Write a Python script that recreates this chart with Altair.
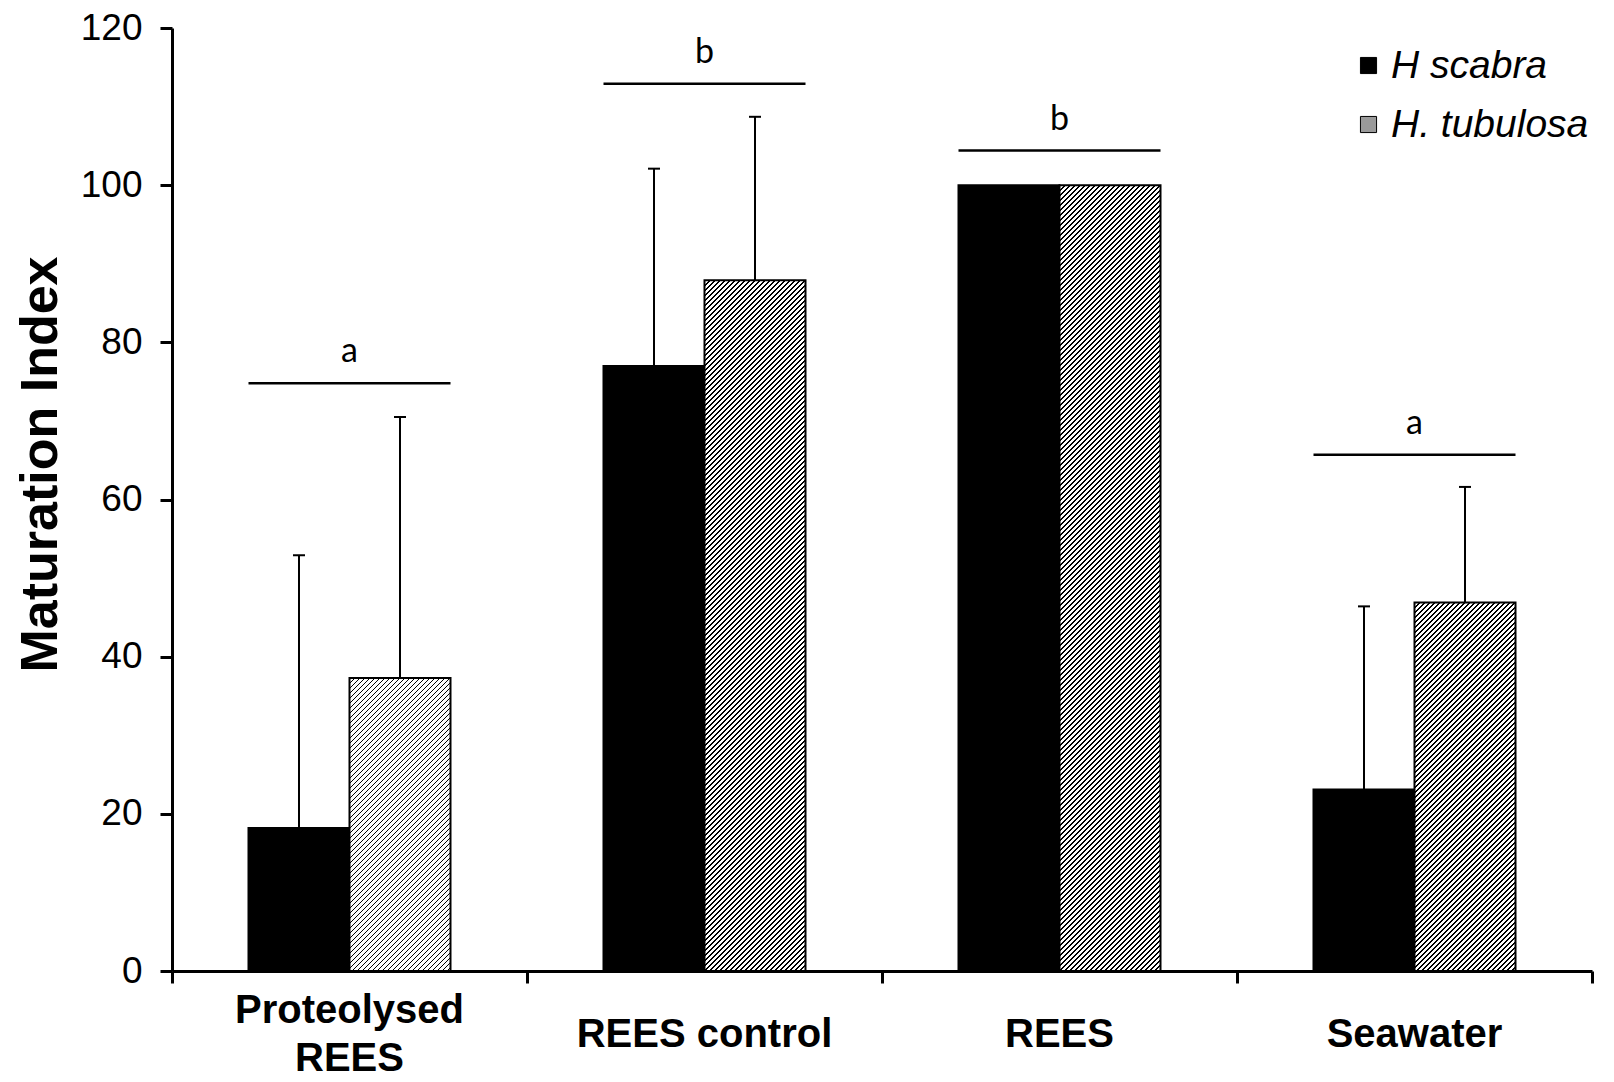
import math
import altair as alt
import pandas as pd

# ---- data ----
categories = ["Proteolysed REES", "REES control", "REES", "Seawater"]
series = ["H scabra", "H. tubulosa"]
scabra_mean = [18.2, 77.0, 100.0, 23.1]
scabra_upper = [52.9, 102.1, 100.0, 46.4]
tubulosa_mean = [37.3, 87.9, 100.0, 46.9]
tubulosa_upper = [70.5, 108.7, 100.0, 61.6]
sig_letters = ["a", "b", "b", "a"]
sig_level = [74.8, 112.9, 104.4, 65.7]
y_ticks = [0, 20, 40, 60, 80, 100, 120]

# ---- layout ----
PLOT_W, PLOT_H = 1420, 943
Y_MAX = 120
P_OUT = 0.7574  # xOffset outer padding -> bars ~101px wide in 355px band
STEP = PLOT_W / len(categories)
BAR_W = STEP / (2 + 2 * P_OUT)
PX_PER_UNIT = PLOT_H / Y_MAX
HATCH_PERIOD = 5  # pixels, along x+y
HATCH_FRAC = 0.32

rows = []
for i, c in enumerate(categories):
    rows.append({"cat": c, "series": series[0], "mean": scabra_mean[i], "upper": scabra_upper[i]})
    rows.append({"cat": c, "series": series[1], "mean": tubulosa_mean[i], "upper": tubulosa_upper[i]})
df = pd.DataFrame(rows)
sig_df = pd.DataFrame({"cat": categories, "level": sig_level, "letter": sig_letters})

FONT = "Liberation Sans"

label_expr = "datum.label == 'Proteolysed REES' ? ['Proteolysed', 'REES'] : datum.label"

x_axis = alt.Axis(
    title=None, labelFont=FONT, labelFontSize=40, labelFontWeight="bold", labelColor="black",
    labelAngle=0,
    labelBaseline={"condition": {"test": "datum.value == 'Proteolysed REES'", "value": "line-bottom"},
                   "value": "middle"},
    labelPadding=51, labelLineHeight=48, labelLimit=0,
    labelExpr=label_expr, bandPosition=1, tickExtra=True, tickSize=12, tickWidth=3,
    tickColor="black", domainColor="black", domainWidth=3, grid=False,
)
y_axis = alt.Axis(
    title="Maturation Index", titleFont=FONT, titleFontSize=52, titleFontWeight="bold",
    titleColor="black", titleAngle=270, titleAlign="center", titleBaseline="alphabetic",
    titleX=-116, titleY=436, values=y_ticks, labelFont=FONT, labelFontSize=37,
    labelColor="black", labelPadding=18, tickSize=12, tickWidth=3, tickColor="black",
    domainColor="black", domainWidth=3, grid=False,
)
x_scale = alt.Scale(paddingInner=0, paddingOuter=0)
y_scale = alt.Scale(domain=[0, Y_MAX], nice=False)
xoff = alt.XOffset("series:N", scale=alt.Scale(domain=series, paddingInner=0, paddingOuter=P_OUT))


def X(**kw):
    return alt.X("cat:N", sort=categories, scale=x_scale, axis=x_axis, **kw)


def Y(field):
    return alt.Y(f"{field}:Q", scale=y_scale, axis=y_axis)


def hatch(value):
    """Diagonal '/' hatching as a striped linear gradient with a fixed pixel period."""
    h = value * PX_PER_UNIT
    r = h / BAR_W
    n = int(math.ceil((BAR_W + h) / HATCH_PERIOD))
    length = n * HATCH_PERIOD  # gradient length measured in (x + y) pixels
    s = length / (BAR_W * (1 + r * r))
    stops = []
    for k in range(n):
        a = k / n
        b = (k + HATCH_FRAC) / n
        stops += [
            alt.GradientStop(offset=a, color="white"),
            alt.GradientStop(offset=a, color="black"),
            alt.GradientStop(offset=b, color="black"),
            alt.GradientStop(offset=b, color="white"),
        ]
    stops.append(alt.GradientStop(offset=1, color="white"))
    return alt.Gradient(gradient="linear", x1=0, y1=0, x2=s, y2=s * r, stops=stops)


base = alt.Chart(df)

black_bars = base.transform_filter(alt.datum.series == series[0]).mark_bar(
    stroke="black", strokeWidth=2
).encode(
    x=X(), xOffset=xoff, y=Y("mean"),
    fill=alt.Fill("series:N", scale=alt.Scale(domain=series, range=["black", "#9a9a9a"]),
                  legend=alt.Legend(
                      title=None, orient="none", legendX=1177, legendY=18,
                      labelFont=FONT, labelFontSize=39, labelFontStyle="italic",
                      labelColor="black", labelLimit=0, symbolType="square", symbolSize=260,
                      symbolStrokeColor="black", symbolStrokeWidth=1,
                      labelOffset=3, rowPadding=19, padding=0)),
)

hatched_layers = []
for c, v in zip(categories, tubulosa_mean):
    hatched_layers.append(
        base.transform_filter((alt.datum.series == series[1]) & (alt.datum.cat == c))
        .mark_bar(stroke="black", strokeWidth=2, fill=hatch(v))
        .encode(x=X(), xOffset=xoff, y=Y("mean"))
    )

err = base.transform_filter(alt.datum.upper > alt.datum.mean)
err_rules = err.mark_rule(color="black", strokeWidth=2).encode(
    x=X(), xOffset=xoff, y=Y("mean"), y2="upper:Q"
)
err_caps = err.mark_tick(color="black", thickness=2, size=12, opacity=1).encode(
    x=X(), xOffset=xoff, y=Y("upper")
)

frac = P_OUT / (2 + 2 * P_OUT)
sig = alt.Chart(sig_df)
sig_lines = sig.mark_rule(color="black", strokeWidth=2.5).encode(
    x=X(bandPosition=frac), x2=alt.X2("cat:N", bandPosition=1 - frac), y=Y("level")
)
sig_text = sig.mark_text(font="Lato", fontSize=34, color="black", baseline="alphabetic",
                         align="center", dy=-21).encode(
    x=X(), y=Y("level"), text="letter:N"
)

chart = alt.layer(
    black_bars, *hatched_layers, err_rules, err_caps, sig_lines, sig_text
).properties(
    width=PLOT_W, height=PLOT_H,
    autosize=alt.AutoSizeParams(type="none"),
    padding={"left": 164, "top": 20, "right": 14, "bottom": 107},
).configure_view(strokeWidth=0)

chart.save("out.html", embed_options={"renderer": "svg", "actions": False})
